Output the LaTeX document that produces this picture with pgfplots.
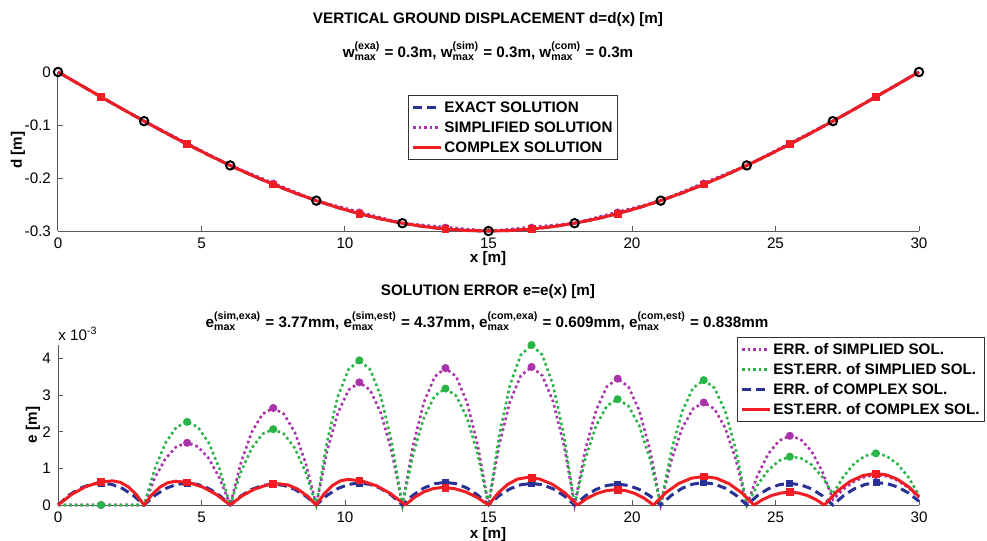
\documentclass[border=0pt]{standalone}
\usepackage{amsmath}
\usepackage{pgfplots}
\usepackage{pgfplotstable}
\pgfplotsset{compat=1.18}
\usepackage{fontspec}
\setmainfont{Liberation Sans}
\definecolor{cblue}{RGB}{40,50,150}
\definecolor{cpurple}{RGB}{170,50,170}
\definecolor{cgreen}{RGB}{40,180,70}
\definecolor{cred}{RGB}{240,30,35}
\newcommand\f{\fontsize{7.6}{9}\selectfont}
\pgfplotstableread{
x exa sim com
0 0 0 0
0.75 -0.0235 -0.0235 -0.0235
1.5 -0.0469 -0.0469 -0.0469
2.25 -0.0700 -0.0700 -0.0700
3 -0.0927 -0.0927 -0.0927
3.75 -0.1148 -0.1135 -0.1148
4.5 -0.1362 -0.1345 -0.1362
5.25 -0.1567 -0.1554 -0.1567
6 -0.1763 -0.1763 -0.1763
6.75 -0.1948 -0.1928 -0.1948
7.5 -0.2121 -0.2095 -0.2121
8.25 -0.2281 -0.2261 -0.2281
9 -0.2427 -0.2427 -0.2427
9.75 -0.2558 -0.2533 -0.2558
10.5 -0.2673 -0.2640 -0.2673
11.25 -0.2772 -0.2747 -0.2772
12 -0.2853 -0.2853 -0.2853
12.75 -0.2917 -0.2889 -0.2917
13.5 -0.2963 -0.2926 -0.2963
14.25 -0.2991 -0.2963 -0.2991
15 -0.3000 -0.3000 -0.3000
15.75 -0.2991 -0.2963 -0.2991
16.5 -0.2963 -0.2925 -0.2963
17.25 -0.2917 -0.2889 -0.2917
18 -0.2853 -0.2853 -0.2853
18.75 -0.2772 -0.2746 -0.2772
19.5 -0.2673 -0.2639 -0.2673
20.25 -0.2558 -0.2537 -0.2558
21 -0.2427 -0.2427 -0.2427
21.75 -0.2281 -0.2260 -0.2281
22.5 -0.2121 -0.2093 -0.2121
23.25 -0.1948 -0.1927 -0.1948
24 -0.1763 -0.1763 -0.1763
24.75 -0.1567 -0.1553 -0.1567
25.5 -0.1362 -0.1343 -0.1362
26.25 -0.1148 -0.1133 -0.1148
27 -0.0927 -0.0926 -0.0927
27.75 -0.0700 -0.0694 -0.0700
28.5 -0.0469 -0.0461 -0.0469
29.25 -0.0235 -0.0228 -0.0235
30 0 0 0
}\disptable
\pgfplotsset{
 myaxis/.style={
  scale only axis, width=430.5pt,
  xmin=0, xmax=30, xtick={0,5,...,30},
  axis x line*=bottom, axis y line*=left,
  axis line style={draw=black!65, line width=0.5pt, -},
  every tick/.style={draw=black!65, line width=0.5pt},
  tick align=inside, major tick length=2.5pt,
  tick label style={font=\f},
  /pgf/number format/assume math mode=true,
  clip=false,
  legend cell align=left,
  legend style={draw=black!80, line width=0.5pt, font=\f\bfseries,
    inner xsep=1.5pt, inner ysep=1pt, row sep=0pt,
    nodes={inner sep=1pt, text height=6.5pt, text depth=1.5pt},
    /tikz/every even column/.append style={column sep=0pt}},
  legend image code/.code={\draw[#1] (0pt,0pt) -- (14pt,0pt);},
 },
 lblue/.style={cblue, line width=1.5pt, dash pattern=on 4.5pt off 2.5pt},
 lpurple/.style={cpurple, line width=1.3pt, dash pattern=on 1.3pt off 1.5pt},
 lgreen/.style={cgreen, line width=1.3pt, dash pattern=on 1.3pt off 1.5pt},
 lred/.style={cred, line width=1.5pt, line join=round},
}
\begin{document}
\begin{tikzpicture}
\useasboundingbox (0pt,0pt) rectangle (493.5pt,-270.5pt);
% ---------- top axis ----------
\begin{axis}[myaxis, at={(29pt,-115.5pt)}, anchor=south west,
  height=79.5pt, ymin=-0.3, ymax=0, ytick={-0.3,-0.2,-0.1,0},
  legend style={at={(0.4065,0.855)}, anchor=north west}]
\addplot[lblue, no markers] table[x=x,y=exa] {\disptable};
\addlegendentry{EXACT SOLUTION}
\addplot[lpurple, no markers] table[x=x,y=sim] {\disptable};
\addlegendentry{SIMPLIFIED SOLUTION}
\addplot[cpurple, only marks, mark=*, mark size=1.5pt, forget plot] coordinates {(1.5,-0.0469)(4.5,-0.1345)(7.5,-0.2095)(10.5,-0.2640)(13.5,-0.2926)(16.5,-0.2925)(19.5,-0.2639)(22.5,-0.2093)(25.5,-0.1343)(28.5,-0.0461)};
\addplot[lred, no markers] table[x=x,y=com] {\disptable};
\addlegendentry{COMPLEX SOLUTION}
\addplot[cred, only marks, mark=square*, mark size=1.7pt, forget plot] coordinates {(1.5,-0.0469)(4.5,-0.1362)(7.5,-0.2121)(10.5,-0.2673)(13.5,-0.2963)(16.5,-0.2963)(19.5,-0.2673)(22.5,-0.2121)(25.5,-0.1362)(28.5,-0.0469)};
\addplot[black, only marks, mark=o, mark size=2.1pt, line width=1pt, forget plot] coordinates {(0,0)(3,-0.0927)(6,-0.1763)(9,-0.2427)(12,-0.2853)(15,-0.3)(18,-0.2853)(21,-0.2427)(24,-0.1763)(27,-0.0927)(30,0)};
\end{axis}
% ---------- bottom axis ----------
\begin{axis}[myaxis, at={(29pt,-252.5pt)}, anchor=south west,
  height=80pt, ymin=0, ymax=4.37, ytick={0,1,2,3,4},
  legend style={at={(0.7886,1.05)}, anchor=north west}]
\addplot[lpurple, no markers] coordinates {(0,0)(0.375,0)(0.75,0)(1.125,0)(1.5,0)(1.875,0)(2.25,0)(2.625,0)(3,0)
(3.375,0.744)(3.75,1.275)(4.125,1.594)(4.5,1.70)(4.875,1.594)(5.25,1.275)(5.625,0.744)(6,0)
(6.375,1.159)(6.75,1.988)(7.125,2.484)(7.5,2.65)(7.875,2.484)(8.25,1.988)(8.625,1.159)(9,0)
(9.375,1.466)(9.75,2.513)(10.125,3.141)(10.5,3.35)(10.875,3.141)(11.25,2.513)(11.625,1.466)(12,0)
(12.375,1.636)(12.75,2.805)(13.125,3.506)(13.5,3.74)(13.875,3.506)(14.25,2.805)(14.625,1.636)(15,0)
(15.375,1.649)(15.75,2.828)(16.125,3.534)(16.5,3.77)(16.875,3.534)(17.25,2.828)(17.625,1.649)(18,0)
(18.375,1.509)(18.75,2.588)(19.125,3.234)(19.5,3.45)(19.875,3.234)(20.25,2.588)(20.625,1.509)(21,0)
(21.375,1.225)(21.75,2.1)(22.125,2.625)(22.5,2.8)(22.875,2.625)(23.25,2.1)(23.625,1.225)(24,0)
(24.375,0.813)(24.75,1.399)(25.125,1.758)(25.5,1.89)(25.875,1.796)(26.25,1.474)(26.625,0.925)(27,0.15)
(27.375,0.438)(27.75,0.646)(28.125,0.774)(28.5,0.82)(28.875,0.786)(29.25,0.671)(29.625,0.476)(30,0.2)};
\addlegendentry{ERR. of SIMPLIED SOL.}
\addplot[cpurple, only marks, mark=*, mark size=1.8pt, forget plot] coordinates {(1.5,0)(4.5,1.70)(7.5,2.65)(10.5,3.35)(13.5,3.74)(16.5,3.77)(19.5,3.45)(22.5,2.80)(25.5,1.89)(28.5,0.82)};
\addplot[lgreen, no markers] coordinates {(0,0)(0.375,0)(0.75,0)(1.125,0)(1.5,0)(1.875,0)(2.25,0)(2.625,0)(3,0)
(3.375,0.993)(3.75,1.703)(4.125,2.128)(4.5,2.27)(4.875,2.128)(5.25,1.703)(5.625,0.993)(6,0)
(6.375,0.906)(6.75,1.553)(7.125,1.941)(7.5,2.07)(7.875,1.941)(8.25,1.553)(8.625,0.906)(9,0)
(9.375,1.728)(9.75,2.963)(10.125,3.703)(10.5,3.95)(10.875,3.703)(11.25,2.963)(11.625,1.728)(12,0)
(12.375,1.391)(12.75,2.385)(13.125,2.981)(13.5,3.18)(13.875,2.981)(14.25,2.385)(14.625,1.391)(15,0)
(15.375,1.912)(15.75,3.278)(16.125,4.097)(16.5,4.37)(16.875,4.097)(17.25,3.278)(17.625,1.912)(18,0)
(18.375,1.264)(18.75,2.168)(19.125,2.709)(19.5,2.89)(19.875,2.709)(20.25,2.168)(20.625,1.264)(21,0)
(21.375,1.492)(21.75,2.558)(22.125,3.197)(22.5,3.41)(22.875,3.197)(23.25,2.558)(23.625,1.492)(24,0)
(24.375,0.549)(24.75,0.953)(25.125,1.209)(25.5,1.32)(25.875,1.284)(26.25,1.103)(26.625,0.774)(27,0.3)
(27.375,0.788)(27.75,1.136)(28.125,1.344)(28.5,1.41)(28.875,1.336)(29.25,1.121)(29.625,0.766)(30,0.27)};
\addlegendentry{EST.ERR. of SIMPLIED SOL.}
\addplot[cgreen, only marks, mark=*, mark size=1.8pt, forget plot] coordinates {(1.5,0)(4.5,2.27)(7.5,2.07)(10.5,3.95)(13.5,3.18)(16.5,4.37)(19.5,2.89)(22.5,3.41)(25.5,1.32)(28.5,1.41)};
\addplot[lblue, no markers] coordinates {(0,0)(0.375,0.2625)(0.75,0.45)(1.125,0.5625)(1.5,0.6)(1.875,0.5625)(2.25,0.45)(2.625,0.2625)(3,0)
(3.375,0.2625)(3.75,0.45)(4.125,0.5625)(4.5,0.6)(4.875,0.5625)(5.25,0.45)(5.625,0.2625)(6,0)
(6.375,0.249)(6.75,0.4275)(7.125,0.534)(7.5,0.57)(7.875,0.534)(8.25,0.4275)(8.625,0.249)(9,0)
(9.375,0.2625)(9.75,0.45)(10.125,0.5625)(10.5,0.6)(10.875,0.5625)(11.25,0.45)(11.625,0.2625)(12,0)
(12.375,0.271)(12.75,0.465)(13.125,0.581)(13.5,0.62)(13.875,0.581)(14.25,0.465)(14.625,0.271)(15,0)
(15.375,0.258)(15.75,0.4425)(16.125,0.553)(16.5,0.59)(16.875,0.553)(17.25,0.4425)(17.625,0.258)(18,0)
(18.375,0.249)(18.75,0.4275)(19.125,0.534)(19.5,0.57)(19.875,0.534)(20.25,0.4275)(20.625,0.249)(21,0)
(21.375,0.267)(21.75,0.4575)(22.125,0.572)(22.5,0.61)(22.875,0.572)(23.25,0.4575)(23.625,0.267)(24,0)
(24.375,0.258)(24.75,0.4425)(25.125,0.553)(25.5,0.59)(25.875,0.553)(26.25,0.4425)(26.625,0.258)(27,0)
(27.375,0.2575)(27.75,0.445)(28.125,0.5625)(28.5,0.61)(28.875,0.5875)(29.25,0.495)(29.625,0.3325)(30,0.1)};
\addlegendentry{ERR. of COMPLEX SOL.}
\addplot[cblue, only marks, mark=square*, mark size=1.5pt, forget plot] coordinates {(1.5,0.6)(4.5,0.6)(7.5,0.57)(10.5,0.6)(13.5,0.62)(16.5,0.59)(19.5,0.57)(22.5,0.61)(25.5,0.59)(28.5,0.61)};
\addplot[lred, no markers] coordinates {(0,0)(0.475,0.289)(0.95,0.495)(1.425,0.619)(1.9,0.66)(2.175,0.619)(2.45,0.495)(2.725,0.289)(3,0)
(3.275,0.284)(3.55,0.4875)(3.825,0.609)(4.1,0.65)(4.575,0.609)(5.05,0.4875)(5.525,0.284)(6,0)
(6.425,0.254)(6.85,0.435)(7.275,0.544)(7.7,0.58)(8.025,0.544)(8.35,0.435)(8.675,0.254)(9,0)
(9.275,0.306)(9.55,0.525)(9.825,0.656)(10.1,0.70)(10.6,0.656)(11.1,0.525)(11.6,0.306)(12.1,0)
(12.425,0.21)(12.75,0.36)(13.075,0.45)(13.4,0.48)(13.8,0.45)(14.2,0.36)(14.6,0.21)(15,0)
(15.3375,0.330)(15.675,0.566)(16.0125,0.708)(16.35,0.755)(16.7875,0.708)(17.225,0.566)(17.6625,0.330)(18.1,0)
(18.4375,0.184)(18.775,0.315)(19.1125,0.394)(19.45,0.42)(19.775,0.394)(20.1,0.315)(20.425,0.184)(20.75,0)
(21.1875,0.341)(21.625,0.585)(22.0625,0.731)(22.5,0.78)(22.9375,0.731)(23.375,0.585)(23.8125,0.341)(24.25,0)
(24.5625,0.153)(24.875,0.2625)(25.1875,0.328)(25.5,0.35)(25.8,0.328)(26.1,0.2625)(26.4,0.153)(26.7,0)
(27.15,0.376)(27.6,0.645)(28.05,0.806)(28.5,0.86)(28.875,0.821)(29.25,0.702)(29.625,0.506)(30,0.23)};
\addlegendentry{EST.ERR. of COMPLEX SOL.}
\addplot[cred, only marks, mark=square*, mark size=1.7pt, forget plot] coordinates {(1.5,0.63)(4.5,0.62)(7.5,0.572)(10.5,0.672)(13.5,0.478)(16.5,0.749)(19.5,0.42)(22.5,0.78)(25.5,0.35)(28.5,0.86)};
\end{axis}
% ---------- texts ----------
\node[anchor=base, font=\f\bfseries] at (244pt,-11.5pt) {VERTICAL GROUND DISPLACEMENT d=d(x) [m]};
\node[anchor=base, font=\f\bfseries] at (244pt,-28.5pt) {w$^{\text{(exa)}}_{\text{max}}$ = 0.3m, w$^{\text{(sim)}}_{\text{max}}$ = 0.3m, w$^{\text{(com)}}_{\text{max}}$ = 0.3m};
\node[rotate=90, font=\f\bfseries] at (9pt,-75pt) {d [m]};
\node[font=\f\bfseries] at (244pt,-129.5pt) {x [m]};
\node[anchor=base, font=\f\bfseries] at (244pt,-147.5pt) {SOLUTION ERROR e=e(x) [m]};
\node[anchor=base, font=\f\bfseries] at (243.5pt,-163.5pt) {e$^{\text{(sim,exa)}}_{\text{max}}$ = 3.77mm, e$^{\text{(sim,est)}}_{\text{max}}$ = 4.37mm, e$^{\text{(com,exa)}}_{\text{max}}$ = 0.609mm, e$^{\text{(com,est)}}_{\text{max}}$ = 0.838mm};
\node[anchor=base west, font=\f, inner sep=0pt] at (29pt,-170pt) {x 10$^{\text{-3}}$};
\node[rotate=90, font=\f\bfseries] at (16.5pt,-212.5pt) {e [m]};
\node[font=\f\bfseries] at (244pt,-267.5pt) {x [m]};
\end{tikzpicture}
\end{document}
